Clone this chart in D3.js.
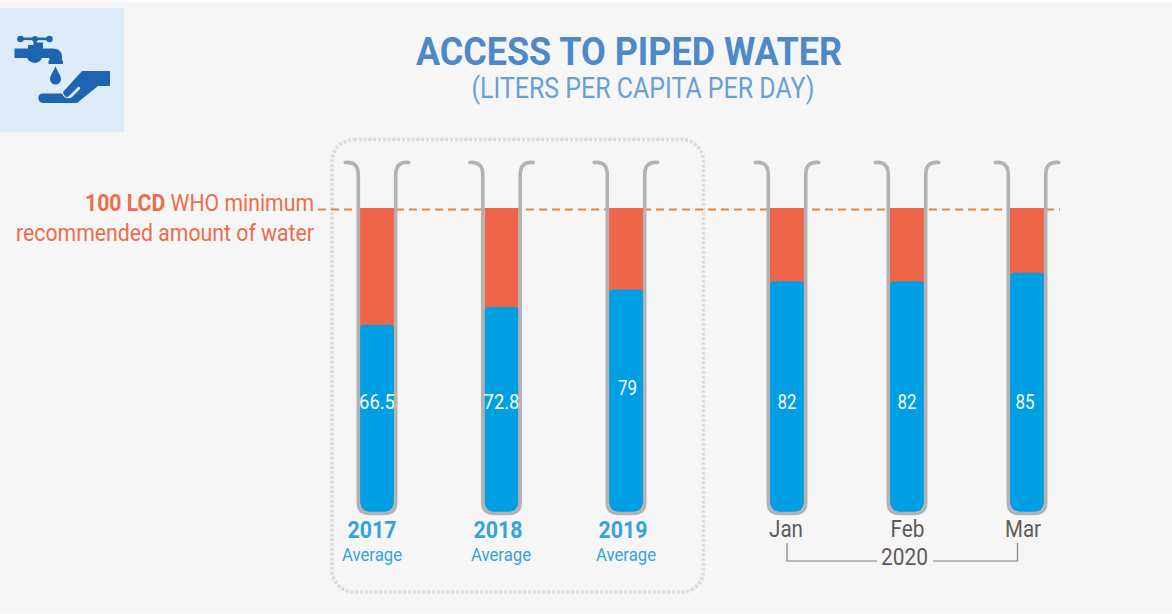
<!DOCTYPE html>
<html>
<head>
<meta charset="utf-8">
<script src="https://cdn.jsdelivr.net/npm/d3@7"></script>
<style>
html, body { margin: 0; padding: 0; background: #fbfbfb; }
svg { display: block; }
text { font-family: Roboto, sans-serif; }
</style>
</head>
<body>
<div id="chart"></div>
<script>
var yearLabels = ['2017', '2018', '2019'];
var yearValues = [66.5, 72.8, 79];
var monthLabels = ['Jan', 'Feb', 'Mar'];
var monthValues = [82, 82, 85];
var whoMinimum = 100;

var width = 1172, height = 614;
var svg = d3.select('#chart').append('svg').attr('width', width).attr('height', height);

// reference squeezes the stretch between 85 and 100, so the scale has a knee
var y = d3.scaleLinear().domain([0, 85, whoMinimum]).range([512, 272.7, 208]);
var xYear = d3.scalePoint().domain(yearLabels).range([377, 626]);
var xMonth = d3.scalePoint().domain(monthLabels).range([787, 1027]);

var tubes = yearLabels.map(function(d, i) { return {label: d, value: yearValues[i], x: xYear(d)}; })
    .concat(monthLabels.map(function(d, i) { return {label: d, value: monthValues[i], x: xMonth(d)}; }));

// text is condensed to the reference widths, Roboto Condensed is not installed
function label(parent, str, x, yy, size, w, color, weight, anchor) {
    return parent.append('text').attr('x', x).attr('y', yy)
        .attr('font-size', size).attr('fill', color)
        .attr('font-weight', weight || 400)
        .attr('text-anchor', anchor || 'middle')
        .attr('textLength', w).attr('lengthAdjust', 'spacingAndGlyphs')
        .text(str);
}

svg.append('rect').attr('x', 0).attr('y', 3).attr('width', width).attr('height', 610).attr('fill', '#f6f6f6');

// icon
var icon = svg.append('g');
icon.append('rect').attr('x', 0).attr('y', 8).attr('width', 124).attr('height', 124).attr('fill', '#deecfa');
var ic = icon.append('g').attr('fill', '#1f64b0').attr('stroke', 'none');
ic.append('path').attr('d', 'M14.5 48.5H28V45H34V42.5H43V48.5H53C59 48.5 62 52 62 57V60.5H63V64H48.5V60.5H49.5V59C49.5 58 49 58 48 58H42C40 64 31 65 27 58H14.5Z');
ic.append('rect').attr('x', 20).attr('y', 37.5).attr('width', 30).attr('height', 2.6);
ic.append('circle').attr('cx', 20.5).attr('cy', 39).attr('r', 3.3);
ic.append('circle').attr('cx', 35).attr('cy', 39).attr('r', 3);
ic.append('circle').attr('cx', 49.5).attr('cy', 39).attr('r', 3.3);
ic.append('rect').attr('x', 33.5).attr('y', 39).attr('width', 3).attr('height', 6);
ic.append('path').attr('d', 'M55.5 66C57 71 61 75 61 79A5.5 5.5 0 0 1 50 79C50 75 54 71 55.5 66Z');
ic.append('path').attr('d', 'M42 93.5H62C64 99 70 99 72 97L80 89C81 88 79 86 78 87L69 96C67 98 64 97 63 92L82 71H110V86H98L77 103H43C37 103 37 93.5 42 93.5Z');

// titles
label(svg, 'ACCESS TO PIPED WATER', 629, 65, 38, 426, '#4d88c7', 700);
label(svg, '(LITERS PER CAPITA PER DAY)', 643, 98, 29, 343, '#6a9fd6', 400);

// dotted box around the yearly averages
svg.append('rect').attr('x', 332).attr('y', 139.5).attr('width', 371.5).attr('height', 452.5)
    .attr('rx', 22).attr('fill', 'none').attr('stroke', '#dcdcdc')
    .attr('stroke-width', 3.6).attr('stroke-dasharray', '3 1.8');

// WHO minimum line and note
svg.append('line').attr('x1', 318).attr('x2', 1060).attr('y1', y(whoMinimum) + 1.5).attr('y2', y(whoMinimum) + 1.5)
    .attr('stroke', '#ea8237').attr('stroke-width', 1.8).attr('stroke-dasharray', '8 5');
var note = svg.append('text').attr('x', 314).attr('y', 211).attr('text-anchor', 'end')
    .attr('font-size', 23).attr('fill', '#ee6c4d').attr('textLength', 229).attr('lengthAdjust', 'spacingAndGlyphs');
note.append('tspan').attr('font-weight', 700).text('100 LCD');
note.append('tspan').text(' WHO minimum');
label(svg, 'recommended amount of water', 314, 241, 23, 298, '#ee6c4d', 400, 'end');

// tubes
var halfIn = 17, halfWall = 18.7, r = 11, bottom = 513.5;

function roundedBottom(x, top, half, rad, topRad) {
    return 'M' + (x - half) + ' ' + (top + topRad)
        + 'Q' + (x - half) + ' ' + top + ' ' + (x - half + topRad) + ' ' + top
        + 'H' + (x + half - topRad)
        + 'Q' + (x + half) + ' ' + top + ' ' + (x + half) + ' ' + (top + topRad)
        + 'V' + (y(0) - rad)
        + 'Q' + (x + half) + ' ' + y(0) + ' ' + (x + half - rad) + ' ' + y(0)
        + 'H' + (x - half + rad)
        + 'Q' + (x - half) + ' ' + y(0) + ' ' + (x - half) + ' ' + (y(0) - rad) + 'Z';
}

var tube = svg.selectAll('g.tube').data(tubes).enter().append('g').attr('class', 'tube');

tube.append('path').attr('fill', '#ee654a')
    .attr('d', function(d) { return roundedBottom(d.x, y(whoMinimum), halfIn, r, 0); });
tube.append('path').attr('fill', '#009fe3')
    .attr('d', function(d) { return roundedBottom(d.x, y(d.value), halfIn, r, 4); });
tube.append('path').attr('fill', 'none').attr('stroke', '#b2b2b2').attr('stroke-width', 3.6)
    .attr('stroke-linecap', 'round')
    .attr('d', function(d) {
        var l = d.x - halfWall, rr = d.x + halfWall;
        return 'M' + (l - 13) + ' 162.5Q' + l + ' 161 ' + l + ' 175'
            + 'V' + (bottom - r) + 'Q' + l + ' ' + bottom + ' ' + (l + r) + ' ' + bottom
            + 'H' + (rr - r) + 'Q' + rr + ' ' + bottom + ' ' + rr + ' ' + (bottom - r)
            + 'V175Q' + rr + ' 161 ' + (rr + 13) + ' 162.5';
    });

// the 79 label sits higher in the reference than the others
tube.each(function(d) {
    var wide = d.value % 1 !== 0;
    label(d3.select(this), String(d.value), d.x + (d.label === '2019' ? 1.5 : d.label === 'Mar' ? -2 : 0),
        d.label === '2019' ? 395 : 409, 20, wide ? 36 : 19, '#ffffff');
});

// bottom labels
var yearShift = [-5, -3.5, -3];
yearLabels.forEach(function(d, i) {
    label(svg, d, xYear(d) + yearShift[i], 537.5, 24, 49, '#36a2de', 700);
    label(svg, 'Average', xYear(d) + yearShift[i] + (i === 0 ? 0 : i === 1 ? 3 : 3), 561, 18, 60, '#36a2de');
});
var monthShift = [-1, 0.5, -4];
var monthWidth = [34, 34, 36];
monthLabels.forEach(function(d, i) {
    label(svg, d, xMonth(d) + monthShift[i], 537, 24, monthWidth[i], '#5f5b5b');
});

// 2020 bracket
svg.append('path').attr('fill', 'none').attr('stroke', '#808080').attr('stroke-width', 1.2)
    .attr('d', 'M' + xMonth('Jan') + ' 543V561H877M933 561H' + (xMonth('Mar') - 9.5) + 'V543');
label(svg, '2020', 904.5, 565, 24, 47, '#5f5b5b');
</script>
</body>
</html>
